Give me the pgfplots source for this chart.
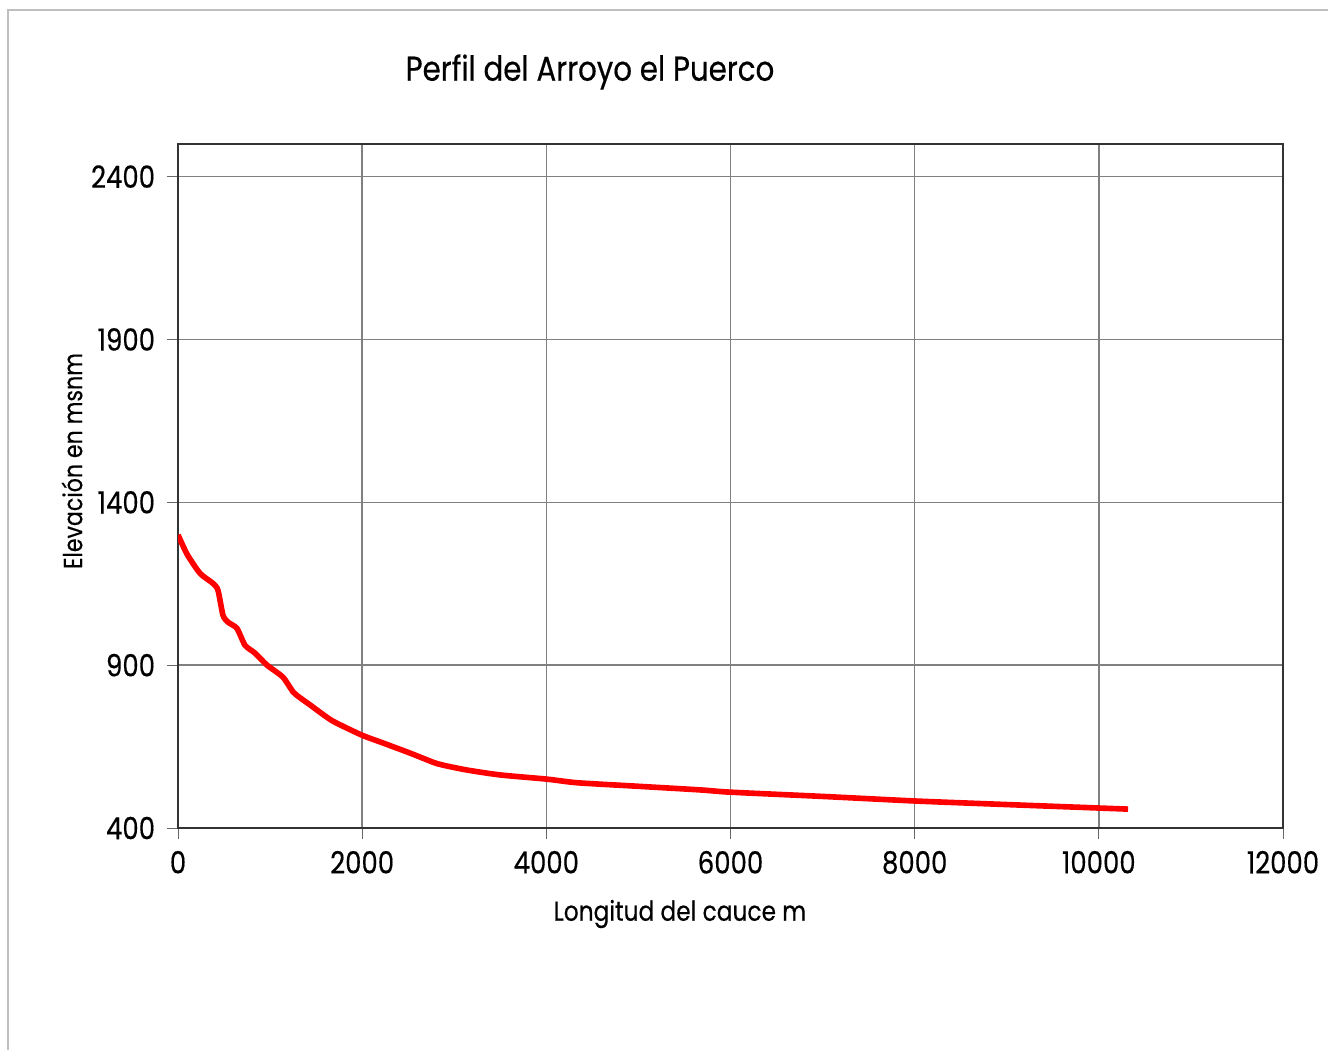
\documentclass[border=0pt]{standalone}
\usepackage{pgfplots}
\pgfplotsset{compat=1.18}
\usepackage{fontspec}
\setmainfont{Poppins}[FakeStretch=0.85, FakeBold=0.4]

\pgfplotstableread{
x y
0 1300
100 1240
239 1182
380 1151
434 1130
489 1053
543 1032
640 1013
728 961
836 937
967 900
1140 863
1249 818
1325 800
1434 778
1510 762
1683 728
1998 685
2227 661
2520 630
2769 602
2878 593
3139 578
3497 563
4007 550
4333 539
4941 529
5669 517
6000 510
7000 497
8000 483
9000 472
10317 458
}\perfil

\begin{document}
\begin{tikzpicture}
\useasboundingbox (0,0) rectangle (13.28cm,10.5cm);
\fill[white] (0,0) rectangle (13.28cm,10.5cm);
\draw[black!25, line width=0.6pt] (0.08cm,0) -- (0.08cm,10.4cm) -- (13.28cm,10.4cm);
\begin{axis}[
    at={(1.78cm,2.22cm)}, anchor=south west,
    scale only axis, width=11.05cm, height=6.84cm,
    xmin=0, xmax=12000, ymin=400, ymax=2500,
    xtick={0,2000,...,12000}, ytick={400,900,1400,1900,2400},
    xtick pos=left, ytick pos=left,
    scaled x ticks=false,
    xticklabel style={/pgf/number format/1000 sep={}},
    yticklabel style={/pgf/number format/1000 sep={}},
    /pgf/number format/assume math mode=true,
    tick label style={font=\fontsize{8.7}{10}\selectfont},
    tick align=outside, major tick length=3pt,
    grid=major, grid style={black!50, line width=0.45pt},
    axis line style={black!80, line width=0.8pt},
    tick style={black!60},
]
\addplot[red, line width=1.6pt, smooth, tension=0.4] table[x=x, y=y] {\perfil};
\end{axis}
\node[font=\fontsize{9.8}{12}\selectfont] at (5.90cm,9.78cm) {Perfil del Arroyo el Puerco};
\node[font=\fontsize{7.8}{10}\selectfont] at (6.80cm,1.36cm) {Longitud del cauce m};
\node[font=\fontsize{7.4}{9}\selectfont, rotate=90] at (0.72cm,5.89cm) {Elevación en msnm};
\end{tikzpicture}
\end{document}
